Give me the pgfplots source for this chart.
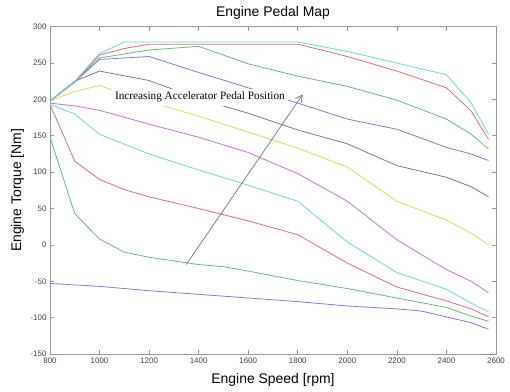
\documentclass[border=0pt]{standalone}
\usepackage{fontspec}
\setmainfont{Liberation Sans}
\newfontfamily\timesfont{Liberation Serif}
\usepackage{pgfplots}
\pgfplotsset{compat=1.18}
\usetikzlibrary{arrows.meta}
\definecolor{cB}{RGB}{125,125,200}
\definecolor{cG}{RGB}{110,180,125}
\definecolor{cR}{RGB}{205,115,130}
\definecolor{cC}{RGB}{110,210,215}
\definecolor{cM}{RGB}{190,120,205}
\definecolor{cY}{RGB}{215,215,100}
\definecolor{cK}{RGB}{125,120,135}
\definecolor{axgray}{RGB}{150,150,150}
\begin{document}
\begin{tikzpicture}
\useasboundingbox (-50bp,-38bp) rectangle (460bp,354bp);
\begin{axis}[
  at={(0,0)}, anchor=south west,
  scale only axis, width=446bp, height=327.3bp,
  xmin=800, xmax=2600, ymin=-150, ymax=300,
  xtick={800,1000,...,2600}, ytick={-150,-100,...,300},
  scaled x ticks=false, scaled y ticks=false,
  /pgf/number format/1000 sep={},
  /pgf/number format/assume math mode=true,
  tick align=inside, major tick length=4bp,
  axis line style={axgray, line width=0.6bp},
  every tick/.style={axgray, line width=0.6bp},
  ticklabel style={font=\fontsize{8}{9}\selectfont, text=black!75},
  label style={font=\fontsize{14}{16}\selectfont},
  every axis title shift=0pt,
  title style={font=\fontsize{14}{16}\selectfont, at={(axis description cs:0.5,1)}, anchor=center, yshift=13.4bp},
  title={Engine Pedal Map},
  xlabel={Engine Speed [rpm]},
  ylabel={Engine Torque [Nm]},
  xlabel style={at={(axis description cs:0.5,0)}, anchor=center, yshift=-26bp},
  ylabel style={at={(axis description cs:0,0.5)}, anchor=center, yshift=32.5bp},
  every axis plot/.append style={line width=0.8bp, mark=none},
]
\addplot[cB] coordinates {(800,-53) (1000,-57) (1200,-63) (1400,-68) (1600,-73) (1800,-78) (2000,-84) (2200,-88) (2300,-91) (2400,-99) (2500,-107) (2570,-116)};
\addplot[cG] coordinates {(800,148) (900,43) (1000,8) (1100,-10) (1200,-17) (1400,-27) (1500,-30) (1600,-36) (1800,-49) (2000,-60) (2200,-73) (2400,-86) (2500,-98) (2570,-105)};
\addplot[cR] coordinates {(800,193) (900,115) (1000,90) (1100,76) (1200,66) (1400,50) (1600,33) (1800,14) (2000,-25) (2200,-58) (2400,-77) (2500,-88) (2570,-99)};
\addplot[cC] coordinates {(800,193) (900,180) (1000,152) (1200,125) (1400,103) (1600,82) (1800,60) (2000,4) (2200,-38) (2400,-61) (2500,-80) (2570,-92)};
\addplot[cM] coordinates {(800,195) (900,191) (1000,185) (1200,166) (1400,148) (1600,127) (1800,98) (2000,60) (2200,7) (2400,-34) (2500,-50) (2570,-66)};
\addplot[cY] coordinates {(800,198) (900,211) (1000,219) (1200,197) (1400,177) (1600,155) (1800,133) (2000,107) (2200,60) (2400,34) (2500,16) (2570,0)};
\addplot[cK] coordinates {(800,198) (900,225) (1000,239) (1200,226) (1400,201) (1600,181) (1800,158) (2000,139) (2200,109) (2400,93) (2500,80) (2570,66)};
\addplot[cB] coordinates {(800,198) (900,224) (1000,255) (1200,259) (1400,237) (1600,216) (1800,195) (2000,173) (2200,159) (2400,134) (2500,125) (2570,116)};
\addplot[cG] coordinates {(800,198) (900,224) (1000,257) (1200,268) (1400,273) (1600,249) (1800,232) (2000,218) (2200,199) (2400,173) (2500,152) (2570,132)};
\addplot[cR] coordinates {(800,198) (900,224) (1000,261) (1100,270) (1200,276) (1800,276) (2000,259) (2200,239) (2400,216) (2500,184) (2570,145)};
\addplot[cC] coordinates {(800,198) (900,225) (1000,263) (1100,279) (1800,279) (2000,266) (2200,250) (2400,234) (2500,195) (2570,152)};
\node[fill=white, inner xsep=3bp, inner ysep=3.5bp, font=\timesfont\fontsize{11.3}{13}\selectfont] at (axis cs:1405,203) {Increasing Accelerator Pedal Position};
\addplot[black!55, line width=0.7bp, -{Straight Barb[length=7bp,width=7bp]}] coordinates {(1350,-27) (1820,207)};
\end{axis}
\end{tikzpicture}
\end{document}
